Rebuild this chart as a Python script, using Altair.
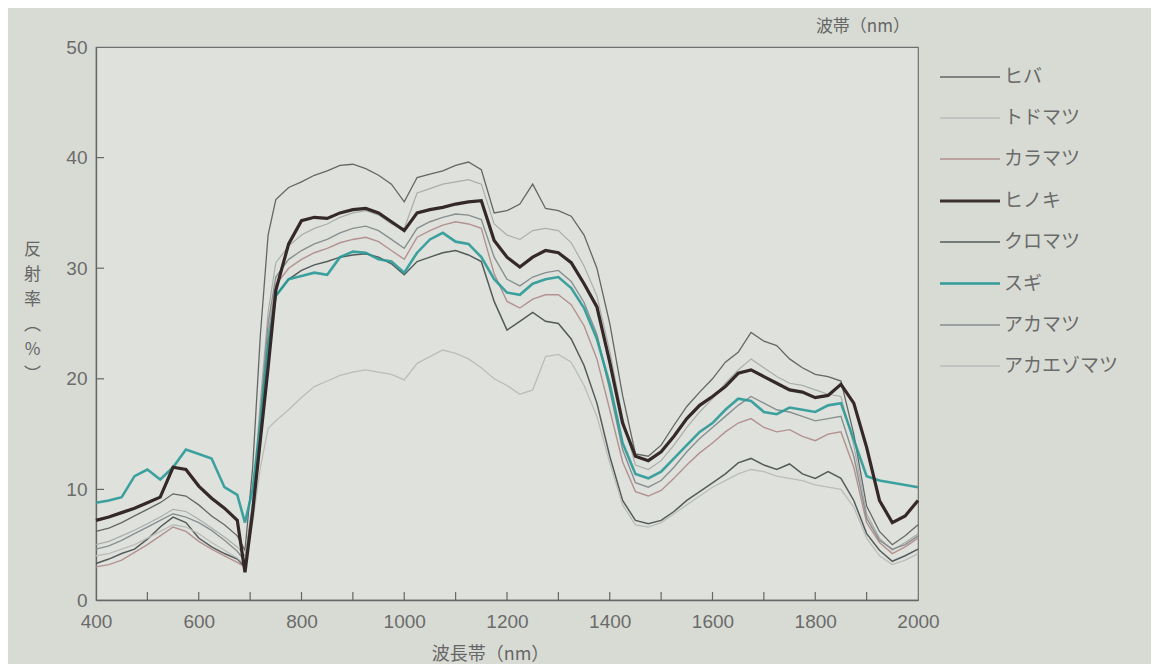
import altair as alt
import pandas as pd

WAVELENGTH = [400, 425, 450, 475, 500, 525, 550, 575, 600, 625, 650, 675,
              690, 705, 720, 735, 750,
              775, 800, 825, 850, 875, 900, 925, 950, 975, 1000,
              1025, 1050, 1075, 1100, 1125, 1150, 1175, 1200, 1225, 1250,
              1275, 1300, 1325, 1350, 1375, 1400, 1425, 1450, 1475, 1500,
              1525, 1550, 1575, 1600, 1625, 1650, 1675, 1700, 1725, 1750,
              1775, 1800, 1825, 1850, 1875, 1900, 1925, 1950, 1975, 2000]

HIBA = [6.2, 6.5, 7.0, 7.6, 8.2, 8.8, 9.6, 9.4, 8.6, 7.6, 6.8, 5.8,
        4.5, 12.0, 24.0, 33.0, 36.2,
        37.3, 37.8, 38.4, 38.8, 39.3, 39.4, 39.0, 38.4, 37.6, 36.0,
        38.2, 38.5, 38.8, 39.3, 39.6, 38.9, 35.0, 35.2, 35.8, 37.6,
        35.4, 35.2, 34.7, 33.0, 30.0, 25.0, 18.5, 13.2, 13.0, 14.0,
        15.8, 17.5, 18.8, 20.0, 21.5, 22.4, 24.2, 23.4, 23.0, 21.8,
        21.0, 20.4, 20.2, 19.8, 15.0, 8.5, 6.2, 5.0, 5.8, 6.8]

TODOMATSU = [5.0, 5.3, 5.8, 6.3, 6.9, 7.5, 8.2, 8.0, 7.3, 6.5, 5.7, 4.8,
             4.0, 9.0, 18.0, 26.0, 30.5,
             32.0, 33.0, 33.6, 34.0, 34.6, 35.0, 35.2, 34.8, 34.0, 33.6,
             36.8, 37.2, 37.6, 37.8, 38.0, 37.6, 34.0, 33.0, 32.6, 33.4,
             33.6, 33.4, 32.3, 30.2, 27.5, 22.5, 16.5, 12.2, 11.8, 12.6,
             14.0, 15.6, 17.0, 18.2, 19.6, 20.8, 21.8, 21.0, 20.2, 19.6,
             19.4, 19.0, 18.6, 18.4, 14.0, 7.8, 5.6, 4.5, 5.2, 6.0]

KARAMATSU = [3.0, 3.2, 3.6, 4.3, 5.0, 5.8, 6.6, 6.2, 5.3, 4.6, 4.0, 3.4,
             3.0, 8.0, 16.0, 24.0, 28.5,
             30.0, 30.8, 31.4, 31.8, 32.3, 32.6, 32.8, 32.4, 31.6, 30.8,
             32.8, 33.4, 33.9, 34.2, 34.0, 33.6, 29.5, 27.0, 26.4, 27.2,
             27.6, 27.6, 26.7, 24.8, 21.8, 17.2, 12.5, 9.8, 9.4, 9.9,
             11.0, 12.2, 13.3, 14.2, 15.2, 16.0, 16.4, 15.6, 15.2, 15.4,
             14.8, 14.4, 15.0, 15.2, 12.0, 7.0, 5.2, 4.2, 4.8, 5.6]

HINOKI = [7.2, 7.5, 7.9, 8.3, 8.8, 9.3, 12.0, 11.8, 10.3, 9.2, 8.3, 7.2,
          2.5, 8.0, 14.5, 21.0, 28.0,
          32.2, 34.3, 34.6, 34.5, 35.0, 35.3, 35.4, 35.0, 34.2, 33.4,
          35.0, 35.3, 35.5, 35.8, 36.0, 36.1, 32.5, 31.0, 30.1, 31.0,
          31.6, 31.4, 30.5, 28.6, 26.5, 21.5, 16.0, 13.0, 12.6, 13.4,
          14.8, 16.4, 17.6, 18.4, 19.3, 20.5, 20.8, 20.2, 19.6, 19.0,
          18.8, 18.3, 18.5, 19.5, 17.8, 13.8, 9.0, 7.0, 7.6, 9.0]

KUROMATSU = [3.3, 3.7, 4.2, 4.6, 5.5, 6.6, 7.5, 7.0, 5.6, 4.8, 4.2, 3.7,
             3.0, 8.0, 15.5, 23.0, 27.5,
             29.0, 29.8, 30.3, 30.6, 31.0, 31.2, 31.3, 31.0, 30.4, 29.4,
             30.6, 31.0, 31.4, 31.6, 31.2, 30.6, 27.0, 24.4, 25.2, 26.0,
             25.2, 25.0, 23.6, 21.2, 17.8, 13.0, 9.0, 7.2, 6.9, 7.2,
             8.0, 9.0, 9.8, 10.6, 11.4, 12.4, 12.8, 12.2, 11.8, 12.3,
             11.4, 11.0, 11.6, 11.0, 9.0, 6.0, 4.5, 3.5, 4.0, 4.6]

SUGI = [8.8, 9.0, 9.3, 11.2, 11.8, 10.9, 12.0, 13.6, 13.2, 12.8, 10.2, 9.5,
        7.0, 10.0, 16.0, 23.0, 27.5,
        29.0, 29.3, 29.6, 29.4, 31.0, 31.5, 31.4, 30.8, 30.6, 29.6,
        31.4, 32.6, 33.2, 32.4, 32.2, 31.0, 29.0, 27.8, 27.6, 28.6,
        29.0, 29.2, 28.2, 26.4, 23.6, 19.5, 14.2, 11.4, 11.0, 11.6,
        12.8, 14.0, 15.2, 16.0, 17.2, 18.2, 18.0, 17.0, 16.8, 17.4,
        17.2, 17.0, 17.6, 17.8, 14.5, 11.2, 10.8, 10.6, 10.4, 10.2]

AKAMATSU = [4.6, 4.9, 5.4, 6.0, 6.6, 7.2, 7.8, 7.5, 7.0, 6.3, 5.4, 4.4,
            3.5, 8.5, 17.0, 25.0, 29.2,
            30.8, 31.6, 32.2, 32.6, 33.2, 33.6, 33.8, 33.4, 32.6, 31.8,
            33.6, 34.2, 34.6, 34.9, 34.8, 34.4, 31.0, 29.0, 28.4, 29.2,
            29.6, 29.8, 28.8, 26.9, 24.0, 19.0, 13.6, 10.6, 10.2, 10.8,
            12.0, 13.4, 14.6, 15.6, 16.6, 17.6, 18.4, 17.8, 17.2, 17.0,
            16.6, 16.2, 16.4, 16.6, 13.0, 7.4, 5.4, 4.6, 5.0, 5.8]

AKAEZOMATSU = [4.0, 4.2, 4.6, 5.0, 5.6, 6.2, 6.8, 6.6, 6.0, 5.2, 4.5, 3.8,
               3.2, 7.0, 12.0, 15.5, 16.2,
               17.2, 18.3, 19.3, 19.8, 20.3, 20.6, 20.8, 20.6, 20.4, 19.9,
               21.4, 22.0, 22.6, 22.3, 21.8, 21.0, 20.0, 19.4, 18.6, 19.0,
               22.0, 22.2, 21.5, 19.4, 16.6, 12.4, 8.6, 6.8, 6.6, 7.0,
               7.8, 8.6, 9.4, 10.2, 10.8, 11.4, 11.8, 11.6, 11.2, 11.0,
               10.8, 10.4, 10.2, 10.0, 8.4, 5.6, 4.0, 3.2, 3.6, 4.2]

SPECIES = ["ヒバ", "トドマツ", "カラマツ", "ヒノキ", "クロマツ", "スギ", "アカマツ", "アカエゾマツ"]
SERIES = [HIBA, TODOMATSU, KARAMATSU, HINOKI, KUROMATSU, SUGI, AKAMATSU, AKAEZOMATSU]
COLORS = ["#5c6060", "#a6aaa8", "#b08c8c", "#352828", "#4c5353", "#2a9a97", "#838a8c", "#b7bbb8"]
WIDTHS = [1.3, 1.2, 1.4, 3.2, 1.5, 2.6, 1.4, 1.3]

X_LABELS = [400, 600, 800, 1000, 1200, 1400, 1600, 1800, 2000]
Y_LABELS = [0, 10, 20, 30, 40, 50]
X_TICKS = [500, 600, 700, 800, 900, 1000, 1100, 1200, 1300, 1400, 1500, 1600, 1700, 1800, 1900]
Y_TICKS = [10, 20, 30, 40]

rows = []
for name, vals in zip(SPECIES, SERIES):
    for w, v in zip(WAVELENGTH, vals):
        rows.append({"wl": w, "r": v, "species": name})
df = pd.DataFrame(rows)

JP = "Noto Sans CJK JP"
NUM = "Liberation Sans"

xscale = alt.Scale(domain=[400, 2000], nice=False, zero=False)
yscale = alt.Scale(domain=[0, 50], nice=False)

legend_opts = dict(
    title=None, orient="none", legendX=842, legendY=-1,
    symbolType="stroke", symbolSize=3600, symbolStrokeWidth=1.6,
    labelFont=JP, labelFontSize=19, labelColor="#6a6a6a",
    rowPadding=0, labelOffset=2,
)
color = alt.Color("species:N", scale=alt.Scale(domain=SPECIES, range=COLORS),
                  legend=alt.Legend(**legend_opts))
swidth = alt.StrokeWidth("species:N",
                         scale=alt.Scale(type="ordinal", domain=SPECIES, range=WIDTHS),
                         legend=alt.Legend(**legend_opts))

xenc = alt.X(
    "wl:Q", scale=xscale,
    axis=alt.Axis(
        values=X_LABELS, ticks=False, grid=False, format="d", title="波長帯（nm）",
        titleFont=JP, titleFontSize=18, titleFontWeight="normal", titleColor="#666",
        titleX=394, titleY=54, titleBaseline="middle", titleAlign="center",
        labelPadding=12, labelFlush=False,
    ),
)
yenc = alt.Y(
    "r:Q", scale=yscale,
    axis=alt.Axis(
        values=Y_LABELS, ticks=False, grid=False, format="d",
        title=["反", "射", "率", "︵", "%", "︶"],
        titleFont=JP, titleFontSize=17, titleFontWeight="normal", titleColor="#666",
        titleAngle=0, titleX=-64, titleY=194, titleBaseline="top", titleAlign="center",
        titleLineHeight=25, labelPadding=9,
    ),
)

base = alt.Chart(df)
thin = base.transform_filter(
    alt.FieldOneOfPredicate(field="species", oneOf=["ヒバ", "トドマツ", "カラマツ", "クロマツ", "アカマツ", "アカエゾマツ"])
).mark_line(opacity=0.95).encode(x=xenc, y=yenc, color=color, strokeWidth=swidth, detail="species:N")
sugi = base.transform_filter(alt.datum.species == "スギ").mark_line(opacity=0.9).encode(
    x="wl:Q", y="r:Q", color=color, strokeWidth=swidth)
hinoki = base.transform_filter(alt.datum.species == "ヒノキ").mark_line().encode(
    x="wl:Q", y="r:Q", color=color, strokeWidth=swidth)

xt = pd.DataFrame({"t": X_TICKS})
yt = pd.DataFrame({"t": Y_TICKS})
xticks = alt.Chart(xt).mark_rule(color="#666", strokeWidth=1.2).encode(
    x=alt.X("t:Q", scale=xscale), y=alt.value(553), y2=alt.value(545))
yticks = alt.Chart(yt).mark_rule(color="#666", strokeWidth=1.2).encode(
    y=alt.Y("t:Q", scale=yscale), x=alt.value(0), x2=alt.value(8))

chart = alt.layer(thin, sugi, hinoki, xticks, yticks).properties(
    width=822, height=553,
    autosize=alt.AutoSizeParams(type="none"),
    padding={"left": 88, "top": 39, "right": 233, "bottom": 64},
    background="#d8dbd4",
    title=alt.TitleParams(
        text="波帯（nm）", anchor="end", frame="group", font=JP, fontSize=17,
        fontWeight="normal", color="#666", offset=2, dx=-8,
    ),
).configure_view(
    stroke="#6f6f6f", strokeWidth=1.2, fill="#dfe2dc"
).configure_axis(
    domainColor="#666", domainWidth=1.3,
    labelFont=NUM, labelFontSize=19, labelColor="#6b6b6b",
)

chart.save("out.html", embed_options={"renderer": "svg", "actions": False})
